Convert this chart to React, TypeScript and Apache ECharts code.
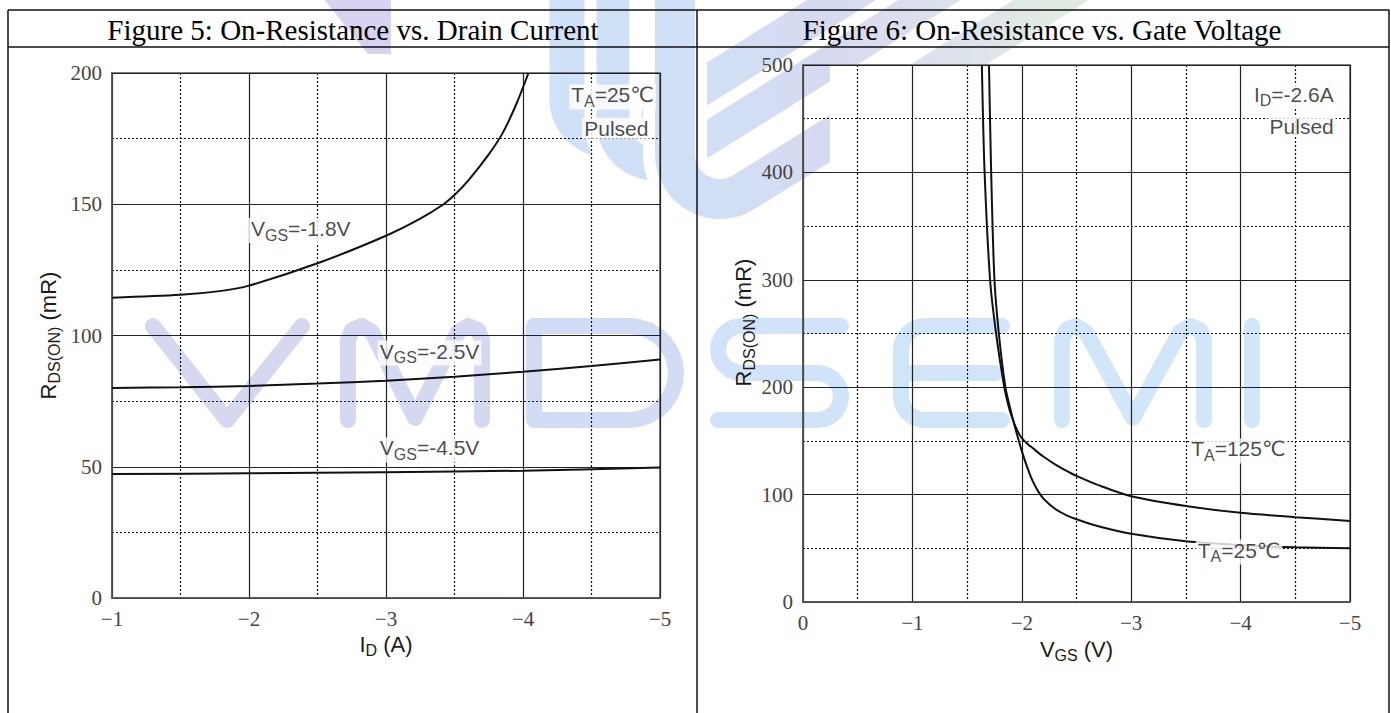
import React, { useEffect, useRef } from "react";
import * as echarts from "echarts";

const W = 1391;
const H = 713;

const fig5Title = "Figure 5: On-Resistance vs. Drain Current";
const fig6Title = "Figure 6: On-Resistance vs. Gate Voltage";

const fig5XRange = [-5, -1];
const fig5YRange = [0, 200];
const fig6XRange = [-5, 0];
const fig6YRange = [0, 500];

// Figure 5: [ID (A), RDS(ON) (mR)]
const vgs18: number[][] = [
  [-1, 114.4], [-1.5, 115.5], [-1.8, 117], [-2, 119], [-2.5, 127.5], [-3, 138],
  [-3.25, 144.5], [-3.42, 150], [-3.5, 153.5], [-3.6, 159], [-3.75, 169],
  [-3.85, 177], [-3.95, 188], [-4.04, 200],
];
const vgs25: number[][] = [
  [-1, 80], [-1.5, 80.3], [-2, 80.8], [-2.5, 81.7], [-3, 82.8], [-3.5, 84.3],
  [-4, 86.2], [-4.5, 88.4], [-5, 90.9],
];
const vgs45: number[][] = [
  [-1, 47.2], [-2, 47.5], [-3, 47.9], [-4, 48.5], [-5, 49.7],
];

// Figure 6: [VGS (V), RDS(ON) (mR)]
const ta125: number[][] = [
  [-1.635, 500], [-1.66, 400], [-1.71, 300], [-1.765, 250], [-1.84, 200],
  [-1.875, 184], [-1.91, 172], [-1.955, 160.5], [-2, 152.5], [-2.06, 146.5],
  [-2.1, 143.3], [-2.15, 139.1], [-2.2, 135.2], [-2.3, 128.4], [-2.4, 122.6],
  [-2.5, 117.4], [-2.7, 108.8], [-3, 98.5], [-3.5, 89.4], [-4, 83],
  [-4.5, 79], [-5, 75.5],
];
const ta25: number[][] = [
  [-1.7, 500], [-1.72, 400], [-1.75, 300], [-1.79, 250], [-1.85, 200],
  [-1.89, 182], [-1.924, 168], [-1.97, 151], [-2, 140.5], [-2.06, 122.5],
  [-2.1, 112.5], [-2.15, 103], [-2.2, 96], [-2.3, 87], [-2.4, 81.2],
  [-2.5, 77], [-2.7, 70.5], [-3, 63.5], [-3.5, 56.5], [-4, 53], [-4.5, 51],
  [-5, 50],
];

const fig5Notes = [
  { text: "{n|V}{s|GS}{n|=-1.8V}", at: [-2.0, 140], anchor: "right" },
  { text: "{n|V}{s|GS}{n|=-2.5V}", at: [-2.94, 93.3], anchor: "right" },
  { text: "{n|V}{s|GS}{n|=-4.5V}", at: [-2.94, 56.4], anchor: "right" },
  { text: "{n|T}{s|A}{n|=25℃}", at: [-4.97, 190.9], anchor: "left" },
  { text: "{n|Pulsed}", at: [-4.93, 179], anchor: "left" },
];
const fig6Notes = [
  { text: "{n|I}{s|D}{n|=-2.6A}", at: [-4.87, 471], anchor: "left" },
  { text: "{n|Pulsed}", at: [-4.87, 443], anchor: "left" },
  { text: "{n|T}{s|A}{n|=125℃}", at: [-3.53, 140.6], anchor: "right" },
  { text: "{n|T}{s|A}{n|=25℃}", at: [-3.59, 46.5], anchor: "right" },
];

const serif = '"Liberation Serif", "Times New Roman", serif';
const sans = '"Liberation Sans", Arial, "DejaVu Sans", sans-serif';

const fmt = (v: number) => (v < 0 ? "\u2212" + Math.abs(v) : String(v));

const nameRich = {
  n: { fontFamily: sans, fontSize: 22, color: "#1a1a1a", verticalAlign: "top" },
  s: { fontFamily: sans, fontSize: 16, color: "#1a1a1a", verticalAlign: "top", padding: [9, 0, 0, 0] },
};
const noteRich = {
  n: { fontFamily: sans, fontSize: 21, color: "#1a1a1a", verticalAlign: "top" },
  s: { fontFamily: sans, fontSize: 16, color: "#1a1a1a", verticalAlign: "top", padding: [9, 0, 0, 0] },
};

const minorLine = { show: true, lineStyle: { color: "#111", width: 1.2, type: [2, 2] } };

function makeX(gridIndex: number, range: number[], name: string, gap: number) {
  return {
    type: "value", gridIndex, min: range[0], max: range[1], interval: 1, inverse: true,
    name, nameLocation: "middle", nameGap: gap, nameTextStyle: { rich: nameRich },
    axisLine: { show: true, onZero: false, lineStyle: { color: "#555", width: 1.5 } },
    axisTick: { show: false },
    axisLabel: { margin: 10, fontFamily: serif, fontSize: 21, color: "#444", formatter: fmt },
    splitLine: { show: true, lineStyle: { color: "#222", width: 1.2 } },
    minorTick: { show: false, splitNumber: 2 },
    minorSplitLine: minorLine,
  };
}
function makeY(gridIndex: number, range: number[], interval: number, name: string, gap: number, shiftUp: number) {
  return {
    type: "value", gridIndex, min: range[0], max: range[1], interval,
    name, nameLocation: "middle", nameGap: gap, nameRotate: 90,
    nameTextStyle: { rich: nameRich, padding: [0, 0, 0, shiftUp * 2] },
    axisLine: { show: true, onZero: false, lineStyle: { color: "#555", width: 1.5 } },
    axisTick: { show: false },
    axisLabel: { margin: 10, fontFamily: serif, fontSize: 21, color: "#444", formatter: fmt },
    splitLine: { show: true, lineStyle: { color: "#222", width: 1.2 } },
    minorTick: { show: false, splitNumber: 2 },
    minorSplitLine: minorLine,
  };
}

const lineSeries = (data: number[][], idx: number) => ({
  type: "line", xAxisIndex: idx, yAxisIndex: idx, data, showSymbol: false, symbol: "none",
  smooth: 0.3, clip: true, silent: true, z: 3,
  lineStyle: { color: "#111", width: 2 },
});
const notesSeries = (notes: any[], idx: number) => ({
  type: "scatter", xAxisIndex: idx, yAxisIndex: idx, symbolSize: 0, z: 6, silent: true,
  data: notes.map((n) => ({
    value: n.at,
    label: {
      show: true, position: n.anchor, distance: 0, formatter: n.text, rich: noteRich,
      backgroundColor: "#fff", padding: [0, 2, 0, 2],
    },
  })),
});

// ---------- decorative watermark ----------
function arcPts(cx: number, cy: number, r: number, a0: number, a1: number, n = 14) {
  const pts: number[][] = [];
  for (let i = 0; i <= n; i++) {
    const a = ((a0 + ((a1 - a0) * i) / n) * Math.PI) / 180;
    pts.push([cx + r * Math.cos(a), cy + r * Math.sin(a)]);
  }
  return pts;
}
const T = 326, B = 420, MID = 373;
function mPts(x0: number, x1: number) {
  const xm = (x0 + x1) / 2;
  return [[x0, B], [x0, T + 14], [x0 + 4, T + 4], [x0 + 14, T], [x0 + 24, T + 6], [xm, B - 2],
    [x1 - 24, T + 6], [x1 - 14, T], [x1 - 4, T + 4], [x1, T + 14], [x1, B]];
}
function watermark() {
  const letters: { pts: number[][]; color: string }[] = [];
  letters.push({ pts: [[153, T], [227, B], [302, T]], color: "#d6d8f0" });
  letters.push({ pts: mPts(348, 482), color: "#d4d9f1" });
  letters.push({ pts: [[534, T], [534, B], [629, B], ...arcPts(629, MID, 47, 90, -90), [534, T]], color: "#d2dcf4" });
  letters.push({ pts: [[841, T], [741.5, T], ...arcPts(741.5, T + 23.5, 23.5, 270, 90), [817.5, MID], ...arcPts(817.5, MID + 23.5, 23.5, -90, 90), [718, B]], color: "#d0e3f8" });
  letters.push({ pts: [[1002, T], [925, T], ...arcPts(925, T + 24, 24, 270, 180, 8), [901, B - 24], ...arcPts(925, B - 24, 24, 180, 90, 8), [1002, B]], color: "#d1e5f9" });
  letters.push({ pts: [[901, MID], [995, MID]], color: "#d1e5f9" });
  letters.push({ pts: mPts(1062, 1204), color: "#d2e6f9" });
  letters.push({ pts: [[1252, T], [1252, B]], color: "#d2e6f9" });
  return letters.map((l) => ({
    type: "polyline", silent: true, z: -2,
    shape: { points: l.pts },
    style: { stroke: l.color, lineWidth: 16, fill: "none", lineCap: "round", lineJoin: "round" },
  }));
}
function bandPts(cx: number, yc: number, r: number, ang: number) {
  const pts: number[][] = [[cx, -40], [cx, yc]];
  const tEnd = 90 + ang;
  for (let i = 1; i <= 18; i++) {
    const t = ((tEnd * i) / 18) * (Math.PI / 180);
    pts.push([cx + r - r * Math.cos(t), yc + r * Math.sin(t)]);
  }
  const te = (tEnd * Math.PI) / 180;
  const last = pts[pts.length - 1];
  const dx = Math.sin(te), dy = Math.cos(te);
  const L = (last[1] + 40) / -dy;
  pts.push([last[0] + dx * L, last[1] + dy * L]);
  return pts;
}
function logo() {
  const grad = () => new echarts.graphic.LinearGradient(540, 0, 1060, 0, [
    { offset: 0, color: "#cfe2f8" },
    { offset: 0.3, color: "#d0e0f6" },
    { offset: 0.55, color: "#d6daf0" },
    { offset: 0.8, color: "#dde2ec" },
    { offset: 1, color: "#e0ece2" },
  ], true);
  const bands = [
    { cx: 568, yc: 99, r: 40, w: 37, gap: 10 },
    { cx: 613, yc: 122, r: 42, w: 33, gap: 12 },
    { cx: 675, yc: 154, r: 45, w: 40, gap: 12 },
  ];
  const els: any[] = [
    {
      type: "polygon", silent: true, z: -4,
      shape: { points: [[323, -2], [391, -2], [391, 54], [368, 54]] },
      style: { fill: "#d8d3f0" },
    },
  ];
  bands.forEach((b) => {
    const pts = bandPts(b.cx, b.yc, b.r, 32);
    els.push({
      type: "polyline", silent: true, z: -4, shape: { points: pts },
      style: { stroke: "#fff", lineWidth: b.w + 2 * b.gap, fill: "none", lineJoin: "round" },
    });
    els.push({
      type: "polyline", silent: true, z: -4, shape: { points: pts },
      style: { stroke: grad(), lineWidth: b.w, fill: "none", lineJoin: "round" },
    });
  });
  // plot-area of figure 6 hides the logo stripes
  els.push({
    type: "rect", silent: true, z: -3,
    shape: { x: 830, y: 64, width: 522, height: 540 },
    style: { fill: "#fff" },
  });
  return els;
}

function tableLines() {
  const st = { stroke: "#111", lineWidth: 1.5 };
  const lines = [
    [8, 10, 1389, 10], [8, 47, 1389, 47],
    [8, 10, 8, H + 5], [697, 10, 697, H + 5], [1389, 10, 1389, H + 5],
  ];
  return lines.map((l) => ({
    type: "line", silent: true, z: 10,
    shape: { x1: l[0], y1: l[1], x2: l[2], y2: l[3] }, style: st,
  }));
}
function headers() {
  return [
    { text: fig5Title, x: 353 },
    { text: fig6Title, x: 1042 },
  ].map((h) => ({
    type: "text", silent: true, z: 10, x: h.x, y: 30,
    style: {
      text: h.text, fill: "#000", fontFamily: serif, fontSize: 29,
      align: "center", verticalAlign: "middle",
    },
  }));
}

export default function App() {
  const ref = useRef<HTMLDivElement>(null);
  useEffect(() => {
    document.body.style.margin = "0";
    if (!ref.current) return;
    const chart = echarts.init(ref.current, null, { renderer: "svg" });
    chart.setOption({
      animation: false,
      backgroundColor: "#fff",
      grid: [
        { left: 112, top: 73, width: 548, height: 525, show: true, borderColor: "#555", borderWidth: 1.5 },
        { left: 803, top: 65, width: 547, height: 537, show: true, borderColor: "#555", borderWidth: 1.5 },
      ],
      xAxis: [
        makeX(0, fig5XRange, "{n|I}{s|D}{n| (A)}", 26),
        makeX(1, fig6XRange, "{n|V}{s|GS}{n| (V)}", 36),
      ],
      yAxis: [
        makeY(0, fig5YRange, 50, "{n|R}{s|DS(ON)}{n| (mR)}", 50, 0),
        makeY(1, fig6YRange, 100, "{n|R}{s|DS(ON)}{n| (mR)}", 37, 11),
      ],
      graphic: [...logo(), ...watermark(), ...tableLines(), ...headers()],
      series: [
        lineSeries(vgs18, 0),
        lineSeries(vgs25, 0),
        lineSeries(vgs45, 0),
        lineSeries(ta125, 1),
        lineSeries(ta25, 1),
        notesSeries(fig5Notes, 0),
        notesSeries(fig6Notes, 1),
      ],
    });
    return () => chart.dispose();
  }, []);
  return <div ref={ref} style={{ width: W, height: H }} />;
}
